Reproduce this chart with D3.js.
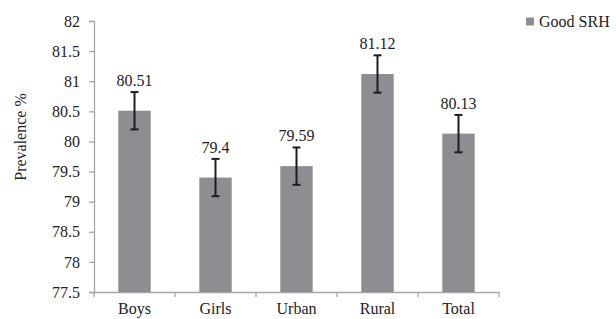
<!DOCTYPE html>
<html>
<head>
<meta charset="utf-8">
<script src="https://cdn.jsdelivr.net/npm/d3@7"></script>
<style>
  body { margin: 0; background: #fff; }
  svg text { font-family: "Liberation Serif", serif; font-size: 16px; fill: #222; }
</style>
</head>
<body>
<script>
// chart data
var categories = ['Boys', 'Girls', 'Urban', 'Rural', 'Total'];
var values = [80.51, 79.4, 79.59, 81.12, 80.13];
var errors = [0.31, 0.31, 0.31, 0.31, 0.31];
var yTicks = [77.5, 78, 78.5, 79, 79.5, 80, 80.5, 81, 81.5, 82];
var seriesName = 'Good SRH';

var W = 616, H = 319;
var barColor = '#8d8e91',
    axisColor = '#a6a6a6';

var svg = d3.select('body').append('svg')
  .attr('width', W)
  .attr('height', H);

var x = d3.scaleBand().domain(categories).range([94, 499]);
var y = d3.scaleLinear().domain([77.5, 82]).range([292, 21]);
var barW = x.bandwidth() / 2.5;

// y axis
var yAxis = svg.append('g')
  .attr('transform', 'translate(94,0)')
  .call(d3.axisLeft(y).tickValues(yTicks).tickSize(5).tickPadding(9).tickFormat(d3.format('')));
yAxis.select('.domain').attr('stroke', axisColor).attr('stroke-width', 1.3);
yAxis.selectAll('.tick line').attr('stroke', axisColor).attr('stroke-width', 1.3);
yAxis.selectAll('text').attr('fill', '#222').style('font-size', '16px').style('font-family', '"Liberation Serif", serif');

// x axis, labels centred in bands, ticks on band edges
var xAxis = svg.append('g')
  .attr('transform', 'translate(0,292)')
  .call(d3.axisBottom(x).tickSize(0).tickPadding(11));
xAxis.select('.domain').attr('stroke', axisColor).attr('stroke-width', 1.3);
xAxis.selectAll('text').attr('fill', '#222').style('font-size', '16px').style('font-family', '"Liberation Serif", serif');

var edges = categories.map(function(c) { return x(c); }).concat([x.range()[1]]);
svg.append('g').selectAll('line')
  .data(edges)
  .enter().append('line')
  .attr('x1', function(d) { return d; })
  .attr('x2', function(d) { return d; })
  .attr('y1', 292)
  .attr('y2', 297)
  .attr('stroke', axisColor)
  .attr('stroke-width', 1.3);

// bars
svg.append('g').selectAll('rect')
  .data(values)
  .enter().append('rect')
  .attr('x', function(d, i) { return x(categories[i]) + (x.bandwidth() - barW) / 2; })
  .attr('y', function(d) { return y(d); })
  .attr('width', barW)
  .attr('height', function(d) { return y(77.5) - y(d); })
  .attr('fill', barColor);

// error bars
var eb = svg.append('g').selectAll('g')
  .data(values)
  .enter().append('g')
  .attr('stroke', '#1c1c1c')
  .attr('stroke-width', 2);

function cx(i) { return x(categories[i]) + x.bandwidth() / 2; }

eb.append('line')
  .attr('x1', function(d, i) { return cx(i); })
  .attr('x2', function(d, i) { return cx(i); })
  .attr('y1', function(d, i) { return y(d + errors[i]); })
  .attr('y2', function(d, i) { return y(d - errors[i]); });
eb.append('line')
  .attr('x1', function(d, i) { return cx(i) - 4; })
  .attr('x2', function(d, i) { return cx(i) + 4; })
  .attr('y1', function(d, i) { return y(d + errors[i]); })
  .attr('y2', function(d, i) { return y(d + errors[i]); });
eb.append('line')
  .attr('x1', function(d, i) { return cx(i) - 4; })
  .attr('x2', function(d, i) { return cx(i) + 4; })
  .attr('y1', function(d, i) { return y(d - errors[i]); })
  .attr('y2', function(d, i) { return y(d - errors[i]); });

// value labels
svg.append('g').selectAll('text')
  .data(values)
  .enter().append('text')
  .attr('x', function(d, i) { return cx(i); })
  .attr('y', function(d, i) { return y(d + errors[i]) - 6; })
  .attr('text-anchor', 'middle')
  .text(function(d) { return d; });

// y axis title
svg.append('text')
  .attr('transform', 'translate(26,137) rotate(-90)')
  .attr('text-anchor', 'middle')
  .text('Prevalence %');

// legend
svg.append('rect')
  .attr('x', 526).attr('y', 17.5)
  .attr('width', 8).attr('height', 8)
  .attr('fill', barColor);
svg.append('text')
  .attr('x', 539).attr('y', 27)
  .text(seriesName);
</script>
</body>
</html>
